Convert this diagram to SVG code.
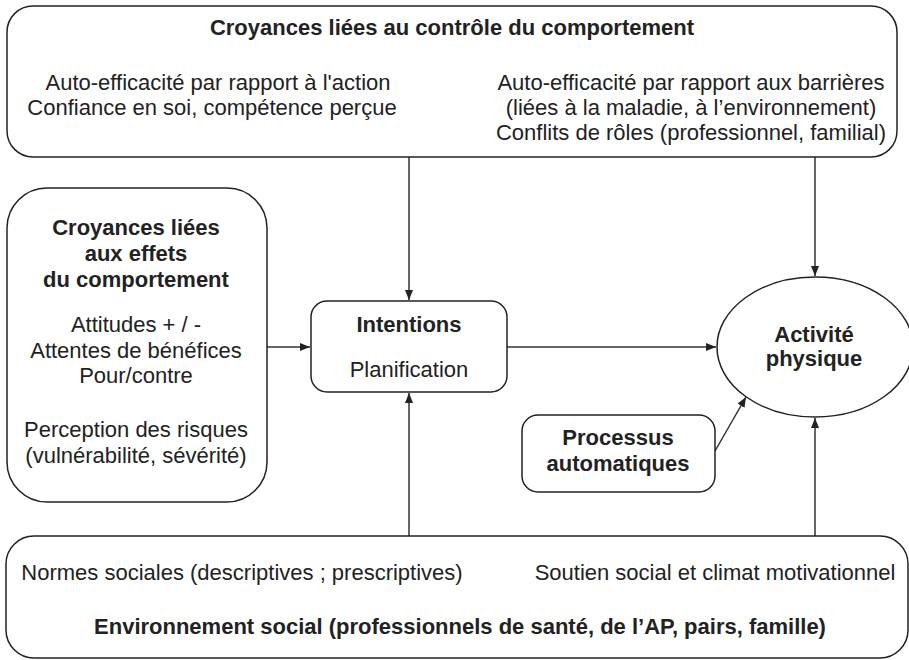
<svg xmlns="http://www.w3.org/2000/svg" width="909" height="660" viewBox="0 0 909 660">
<style>
.box{fill:#fff;stroke:#222;stroke-width:1.5}
.t{font-family:"Liberation Sans",Arial,sans-serif;font-size:22px;fill:#222;text-anchor:middle}
.b{font-weight:bold}
.c{stroke:#333;stroke-width:1.5;fill:none;marker-end:url(#ah)}
</style>
<defs>
<marker id="ah" markerUnits="userSpaceOnUse" markerWidth="10" markerHeight="8" refX="10" refY="4" orient="auto">
<path d="M0,0 L10,4 L0,8 z" fill="#222"/>
</marker>
</defs>
<rect width="909" height="660" fill="#fff"/>
<g id="connectors">
<line class="c" x1="409" y1="157" x2="409" y2="300"/>
<line class="c" x1="815" y1="157" x2="815" y2="276"/>
<line class="c" x1="267" y1="347" x2="310" y2="347"/>
<line class="c" x1="507" y1="347" x2="716" y2="347"/>
<line class="c" x1="409" y1="536" x2="409" y2="393"/>
<line class="c" x1="815" y1="536" x2="815" y2="418"/>
<line class="c" x1="715" y1="451" x2="746" y2="397"/>
</g>
<g id="controle">
<rect class="box" x="7" y="6" width="890" height="151" rx="26"/>
<text class="t b" x="452" y="35">Croyances liées au contrôle du comportement</text>
<text class="t" x="218" y="90">Auto-efficacité par rapport à l'action</text>
<text class="t" x="212" y="115">Confiance en soi, compétence perçue</text>
<text class="t" x="691" y="90">Auto-efficacité par rapport aux barrières</text>
<text class="t" x="691" y="115">(liées à la maladie, à l’environnement)</text>
<text class="t" x="691" y="140">Conflits de rôles (professionnel, familial)</text>
</g>
<g id="effets">
<rect class="box" x="7" y="188" width="260" height="314" rx="40"/>
<text class="t b" x="136" y="235">Croyances liées</text>
<text class="t b" x="136" y="261">aux effets</text>
<text class="t b" x="136" y="287">du comportement</text>
<text class="t" x="136" y="332">Attitudes + / -</text>
<text class="t" x="136" y="358">Attentes de bénéfices</text>
<text class="t" x="136" y="383">Pour/contre</text>
<text class="t" x="136" y="437">Perception des risques</text>
<text class="t" x="136" y="463">(vulnérabilité, sévérité)</text>
</g>
<g id="intentions">
<rect class="box" x="311" y="301" width="196" height="91" rx="16"/>
<text class="t b" x="409" y="332">Intentions</text>
<text class="t" x="409" y="377">Planification</text>
</g>
<g id="activite">
<ellipse class="box" cx="815" cy="347" rx="98" ry="70"/>
<text class="t b" x="814" y="342">Activité</text>
<text class="t b" x="814" y="366">physique</text>
</g>
<g id="processus">
<rect class="box" x="522" y="415" width="193" height="77" rx="16"/>
<text class="t b" x="618" y="445">Processus</text>
<text class="t b" x="618" y="471">automatiques</text>
</g>
<g id="environnement">
<rect class="box" x="6" y="536" width="902" height="122" rx="28"/>
<text class="t" x="242" y="580">Normes sociales (descriptives ; prescriptives)</text>
<text class="t" x="715" y="580">Soutien social et climat motivationnel</text>
<text class="t b" x="460" y="634">Environnement social (professionnels de santé, de l’AP, pairs, famille)</text>
</g>
</svg>
